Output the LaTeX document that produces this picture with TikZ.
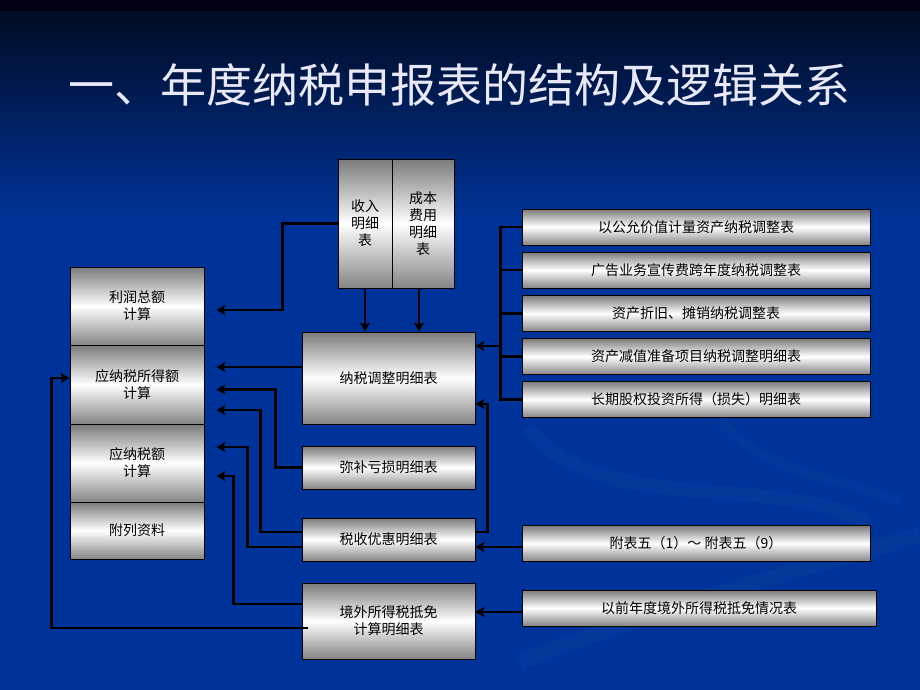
\documentclass[tikz,border=0pt]{standalone}
\usepackage{fontspec}
\newfontfamily\cjk{Noto Sans CJK SC}
\usepackage{tikz}
\usetikzlibrary{arrows.meta,calc}
\definecolor{slideblue}{RGB}{0,51,153}
\definecolor{slidedark}{RGB}{0,12,36}
\definecolor{slidetop}{RGB}{0,0,16}
\definecolor{titlegray}{RGB}{232,232,246}
\tikzstyle{block} = [draw=black, line width=0.8pt, rectangle, inner sep=0pt, top color=black!52, bottom color=black!48, middle color=white, text=black, font=\cjk\fontsize{14}{17}\selectfont, align=center]
\tikzstyle{leftbox} = [block, minimum width=134pt]
\tikzstyle{midbox} = [block, minimum width=173pt]
\tikzstyle{rightbox} = [block, minimum width=348pt, minimum height=36pt]
\tikzstyle{link} = [line width=2.6pt, -{Stealth[length=9pt,width=10pt,inset=2pt]}]
\tikzstyle{feed} = [link, shorten >=12pt]
\tikzstyle{bar} = [line width=2.6pt]

\begin{document}
\begin{tikzpicture}[x=1pt,y=-1pt]
		\useasboundingbox (0,0) rectangle (920,690);
		% background of the slide
		\fill[slidetop] (0,0) rectangle (920,12);
		\shade[top color=slidedark, bottom color=slideblue] (0,12) rectangle (920,220);
		\fill[slideblue] (0,220) rectangle (920,690);
		\draw[white, opacity=0.025, line width=14pt] (528,428) .. controls (600,520) and (780,470) .. (870,525);
		\draw[white, opacity=0.02, line width=10pt] (720,420) .. controls (760,470) and (840,480) .. (900,500);
		\draw[white, opacity=0.025, line width=16pt] (920,535) .. controls (800,570) and (650,610) .. (520,662);

		\node[font=\cjk\fontsize{46}{46}\selectfont, text=titlegray] (title) at (459,85) {一、年度纳税申报表的结构及逻辑关系};

		% main form
		\node [leftbox, minimum height=78pt] (lirun) at (137,306) {利润总额\\计算};
		\node [leftbox, minimum height=79pt] (suode) at (137,384.5) {应纳税所得额\\计算};
		\node [leftbox, minimum height=78pt] (shuie) at (137,463) {应纳税额\\计算};
		\node [leftbox, minimum height=57pt] (fulie) at (137,530.5) {附列资料};

		% schedules
		\node [block, minimum width=54pt, minimum height=129pt] (shouru) at (365,223.5) {收入\\明细\\表};
		\node [block, minimum width=62pt, minimum height=129pt] (chengben) at (423,223.5) {成本\\费用\\明细\\表};
		\node [midbox, minimum height=92pt] (tiaozheng) at (388.5,378) {纳税调整明细表};
		\node [midbox, minimum height=43pt] (mibu) at (388.5,467.5) {弥补亏损明细表};
		\node [midbox, minimum height=43pt] (youhui) at (388.5,539.5) {税收优惠明细表};
		\node [midbox, minimum height=76pt] (jingwai) at (388.5,621) {境外所得税抵免\\计算明细表};

		% attached tables
		\node [rightbox] (gongyun) at (696,227) {以公允价值计量资产纳税调整表};
		\node [rightbox] (guanggao) at (696,270) {广告业务宣传费跨年度纳税调整表};
		\node [rightbox] (zhejiu) at (696,313.5) {资产折旧、摊销纳税调整表};
		\node [rightbox] (jianzhi) at (696,356.5) {资产减值准备项目纳税调整明细表};
		\node [rightbox] (guquan) at (696,399.5) {长期股权投资所得（损失）明细表};
		\node [rightbox] (fubiao) at (696,543.5) {附表五（1）～\ 附表五（9）};
		\node [rightbox, minimum width=354pt] (yiqian) at (699,608) {以前年度境外所得税抵免情况表};

		\coordinate (bus) at ([xshift=-21pt]gongyun.west);

		\draw [feed] (shouru.west) -- ++(-55,0) |- ([yshift=-4pt]lirun.east);
		\draw [link] (shouru.south) -- (shouru.south |- tiaozheng.north);
		\draw [link] ([xshift=-4pt]chengben.south) -- ([xshift=-4pt]chengben.south |- tiaozheng.north);
		\draw [feed] ([yshift=11pt]tiaozheng.west) -- ([yshift=11pt]tiaozheng.west -| suode.east);
		\draw [feed] (mibu.west) -- ++(-26,0) |- ([yshift=-5pt]suode.east);
		\draw [feed] ([yshift=7.5pt]youhui.west) -- ++(-41,0) |- ([yshift=-25.5pt]suode.east);
		\draw [feed] ([yshift=-7.5pt]youhui.west) -- ++(-54,0) |- ([yshift=16pt]shuie.east);
		\draw [feed] ([yshift=17pt]jingwai.west) -- ++(-68,0) |- ([yshift=-13pt]shuie.east);
		\draw [link] ([xshift=6pt,yshift=-7pt]jingwai.west) -- ++(-256,0) |- ([yshift=6.5pt]suode.west);

		\draw [bar] (gongyun.west) -| (bus) |- (guquan.west);
		\draw [bar] (guanggao.west) -- (guanggao.west -| bus);
		\draw [bar] (zhejiu.west) -- (zhejiu.west -| bus);
		\draw [bar] (jianzhi.west) -- (jianzhi.west -| bus);
		\draw [link] ([yshift=32pt]tiaozheng.east -| bus) -- ([yshift=32pt]tiaozheng.east);
		\draw [link] ([yshift=7.5pt]youhui.east) -- ++(12,0) |- ([yshift=-26pt]tiaozheng.east);
		\draw [link] ([yshift=-7.5pt]youhui.east -| fubiao.west) -- ([yshift=-7.5pt]youhui.east);
		\draw [link] ([yshift=9pt]jingwai.east -| yiqian.west) -- ([yshift=9pt]jingwai.east);
	\end{tikzpicture}
\end{document}
